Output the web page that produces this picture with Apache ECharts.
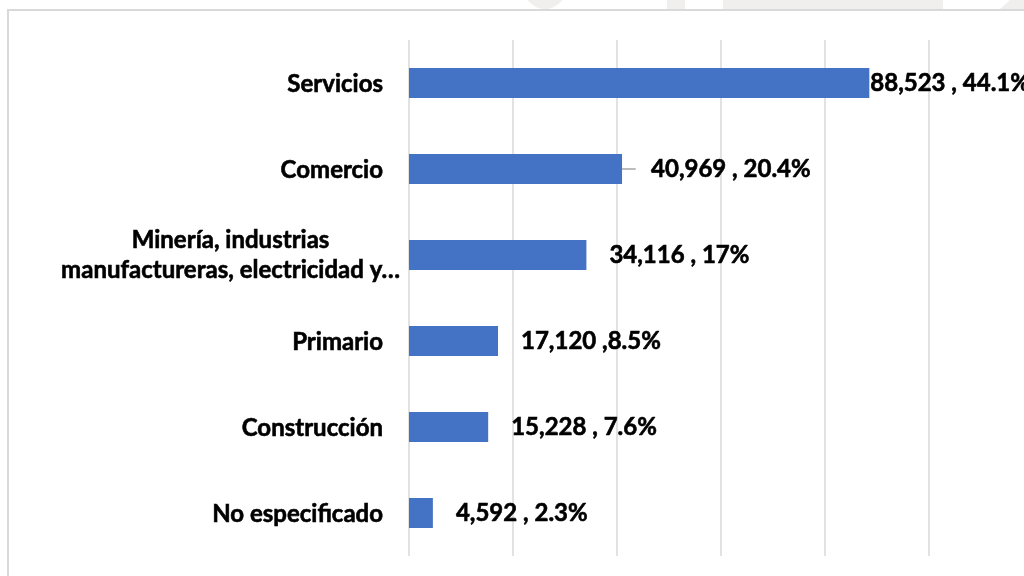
<!DOCTYPE html>
<html><head><meta charset="utf-8">
<script src="https://cdn.jsdelivr.net/npm/echarts@6/dist/echarts.min.js"></script>
<style>html,body{margin:0;padding:0;background:#fff}#c{width:1024px;height:576px}</style>
</head><body><div id="c"></div>
<script>
const categories = ['Servicios', 'Comercio', 'Minería, industrias\nmanufactureras, electricidad y…', 'Primario', 'Construcción', 'No especificado'];
const values = [88523, 40969, 34116, 17120, 15228, 4592];
const valueLabels = ['88,523 , 44.1%', '40,969 , 20.4%', '34,116 , 17%', '17,120 ,8.5%', '15,228 , 7.6%', '4,592 , 2.3%'];

// layout / style constants (not data)
const labelDistances = [1, 0, 23, 23, 23, 23];
const FONT = 'Lato';
const barColor = '#4472C4';
const textStyleBase = { fontFamily: FONT, fontWeight: 'bold', fontSize: 24, color: '#000', textBorderColor: '#000', textBorderWidth: 0.6 };

const chart = echarts.init(document.getElementById('c'), null, {renderer: 'canvas'});

const seriesData = values.map((v, i) => {
  const item = {
    value: v,
    label: { distance: labelDistances[i], formatter: valueLabels[i] }
  };
  if (i === 1) {
    item.label.formatter = '{g|}{t|' + valueLabels[i] + '}';
    item.label.rich = {
      g: { width: 15, height: 24, backgroundColor: '#ffffff' },
      t: Object.assign({}, textStyleBase)
    };
    item.labelLine = { show: true, lineStyle: { color: '#a6a6a6', width: 1.5 } };
  }
  return item;
});

chart.setOption({
  animation: false,
  backgroundColor: '#ffffff',
  graphic: [
    { type: 'circle', shape: { cx: 545, cy: -12, r: 21 }, style: { fill: '#f0efee' }, z: -10 },
    { type: 'rect', shape: { x: 667, y: 0, width: 18, height: 9 }, style: { fill: '#f0efee' }, z: -10 },
    { type: 'rect', shape: { x: 723, y: 0, width: 220, height: 9 }, style: { fill: '#f0efee' }, z: -10 },
    { type: 'polygon', shape: { points: [[1000, 9], [1010, 0], [1024, 0], [1024, 9]] }, style: { fill: '#f0efee' }, z: -10 },
    { type: 'rect', shape: { x: 8, y: 10, width: 1100, height: 700 }, style: { fill: 'none', stroke: '#d9d9d9', lineWidth: 2 }, z: -5 }
  ],
  grid: { left: 409, right: 95, top: 40, bottom: 20 },
  xAxis: {
    type: 'value', min: 0, max: 100000, interval: 20000,
    axisLabel: { show: false },
    axisLine: { show: false },
    axisTick: { show: false },
    splitLine: { show: true, lineStyle: { color: '#d9d9d9', width: 1.5 } }
  },
  yAxis: {
    type: 'category', inverse: true, data: categories,
    axisLine: { show: false },
    axisTick: { show: false },
    axisLabel: {
      margin: 9,
      formatter: function (v) {
        if (v.indexOf('\n') >= 0) {
          return v.split('\n').map(s => '{m|' + s + '}').join('\n');
        }
        return '{n|' + v + '}';
      },
      rich: {
        n: Object.assign({}, textStyleBase, { padding: [2, 17, 0, 0] }),
        m: Object.assign({}, textStyleBase, { align: 'center', lineHeight: 30 })
      }
    }
  },
  series: [{
    type: 'bar',
    data: seriesData,
    barWidth: 30,
    itemStyle: { color: barColor },
    label: Object.assign({ show: true, position: 'right', offset: [0, 2] }, textStyleBase),
    labelLayout: function (p) {
      if (p.dataIndex === 1) return { dx: 14 };
      return {};
    }
  }]
});
</script></body></html>
